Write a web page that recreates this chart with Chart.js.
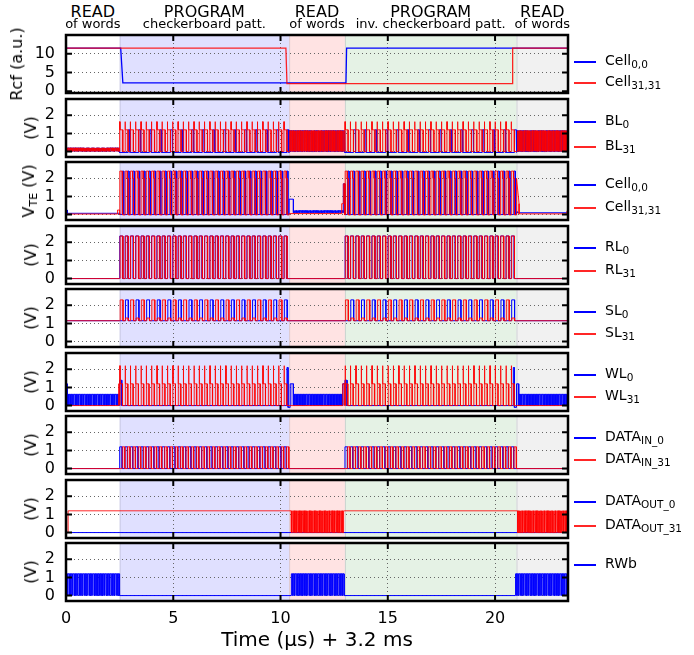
<!DOCTYPE html>
<html>
<head>
<meta charset="utf-8">
<script src="https://cdn.jsdelivr.net/npm/chart.js@4"></script>
<style>
body { margin: 0; background: #fff; }
#fig { position: relative; width: 694px; height: 655px; overflow: hidden; font-family: 'DejaVu Sans', sans-serif; color: #000; }
#fig canvas { position: absolute; left: 0; }
.phase { position: absolute; width: 240px; text-align: center; white-space: nowrap; }
.ytitle { position: absolute; white-space: nowrap; font-size: 16px; line-height: 16px; transform: translate(-50%, -50%) rotate(-90deg); }
.ytitle sub { font-size: 11px; vertical-align: -3px; line-height: 0; }
.legline { position: absolute; left: 574px; width: 22px; height: 1.5px; }
.legtext { position: absolute; left: 605px; height: 20px; line-height: 20px; font-size: 14px; white-space: nowrap; }
.legtext sub { font-size: 10.5px; vertical-align: -3px; line-height: 0; }
</style>
</head>
<body>
<div id="fig"></div>
<script>
// time axis: µs after 3.2 ms
const xMax = 23.4;
const xTicks = [0, 5, 10, 15, 20];
const voltTicks = [0, 1, 2];
const rcfTicks = [0, 5, 10];

// operation phases
const phaseStart = [0, 2.5, 10.4, 13.0, 21.0];
const phaseEnd = [2.5, 10.4, 13.0, 21.0, 23.4];
const phaseName = ['READ', 'PROGRAM', 'READ', 'PROGRAM', 'READ'];
const phaseNote = ['of words', 'checkerboard patt.', 'of words', 'inv. checkerboard patt.', 'of words'];
const phaseFill = ['rgba(255,255,255,0)', 'rgba(0,0,255,0.12)', 'rgba(255,0,0,0.11)', 'rgba(0,128,0,0.1)', 'rgba(128,128,128,0.11)'];

// one period of each repeating waveform: [fraction of period, value]
const flat = v => [[0, v], [1, v]];
const ramp = (a, b) => [[0, a], [1, b]];
const readBLlow = [[0, 0.02], [0.35, 0.02], [0.35, 0.2], [0.85, 0.2], [0.85, 0.02], [1, 0.02]];
const readBL0 = [[0, 0], [0.15, 0], [0.15, 1.15], [0.7, 1.15], [0.7, 0], [1, 0]];
const readBL31 = [[0, 0.02], [0.45, 0.02], [0.45, 1.15], [0.9, 1.15], [0.9, 0.02], [1, 0.02]];
const progBL0 = [[0, -0.05], [0.81, -0.05], [0.81, 1.2], [0.97, 1.2], [0.97, -0.05], [1, -0.05]];
const progBL31 = [[0, 0], [0.02, 0], [0.02, 1.65], [0.07, 1.65], [0.07, 1.2], [0.6, 1.2], [0.6, 0], [1, 0]];
const progTE00 = [[0, 0], [0.5, 0], [0.5, 2.4], [0.78, 2.4], [0.78, 0], [1, 0]];
const progTE3131 = [[0, -0.02], [0.05, -0.02], [0.05, 2.4], [0.45, 2.4], [0.45, 2.0], [0.62, 2.0], [0.62, -0.02], [1, -0.02]];
const readTE00 = [[0, 0.1], [0.4, 0.1], [0.4, 0.22], [0.9, 0.22], [0.9, 0.1], [1, 0.1]];
const progRL0 = [[0, 0], [0.04, 0], [0.04, 2.35], [0.58, 2.35], [0.58, 0], [1, 0]];
const progRL31 = [[0, 0], [0.08, 0], [0.08, 2.35], [0.62, 2.35], [0.62, 0], [1, 0]];
const progSL0 = [[0, 1.15], [0.55, 1.15], [0.55, 2.3], [0.82, 2.3], [0.82, 1.15], [1, 1.15]];
const progSL31 = [[0, 1.15], [0.05, 1.15], [0.05, 2.3], [0.32, 2.3], [0.32, 1.15], [0.55, 1.15], [0.55, 1.3], [0.82, 1.3], [0.82, 1.15], [1, 1.15]];
const readWL0 = [[0, 0], [0.1, 0], [0.1, 0.62], [0.85, 0.62], [0.85, 0], [1, 0]];
const progWL31 = [[0, 0], [0.05, 0], [0.05, 2.2], [0.09, 2.2], [0.09, 1.2], [0.55, 1.2], [0.55, 0], [1, 0]];
const progIN0 = [[0, 0], [0.02, 0], [0.02, 1.2], [0.47, 1.2], [0.47, 0], [1, 0]];
const progIN31 = [[0, 0], [0.5, 0], [0.5, 1.2], [0.95, 1.2], [0.95, 0], [1, 0]];
const readOUT31 = [[0, 1.2], [0.1, 1.2], [0.1, 0], [0.6, 0], [0.6, 1.2], [1, 1.2]];
const readRWb = [[0, 0], [0.1, 0], [0.1, 1.2], [0.88, 1.2], [0.88, 0], [1, 0]];

// signals: [from, to, repetitions, period shape]
const rcfCell00 = [[0, 2.55, 1, flat(11.5)], [2.55, 2.65, 1, ramp(11.5, 2.2)], [2.65, 13.05, 1, flat(2.2)], [13.05, 13.08, 1, ramp(2.2, 11.5)], [13.08, 23.4, 1, flat(11.5)]];
const rcfCell3131 = [[0, 10.25, 1, flat(11.5)], [10.25, 10.3, 1, ramp(11.5, 2.0)], [10.3, 20.8, 1, flat(2.0)], [20.8, 20.83, 1, ramp(2.0, 11.5)], [20.83, 23.4, 1, flat(11.5)]];
const bl0 = [[0, 2.5, 32, readBLlow], [2.5, 10.4, 16, progBL0], [10.4, 13.0, 32, readBL0], [13.0, 21.0, 16, progBL0], [21.0, 23.4, 32, readBL0]];
const bl31 = [[0, 2.5, 32, readBLlow], [2.5, 10.4, 32, progBL31], [10.4, 13.0, 32, readBL31], [13.0, 21.0, 32, progBL31], [21.0, 23.4, 32, readBL31]];
const vte00 = [[0, 0.06, 1, flat(0.25)], [0.06, 2.5, 1, flat(0.07)], [2.5, 10.4, 32, progTE00], [10.4, 10.6, 1, flat(0.85)], [10.6, 12.93, 32, readTE00], [12.93, 13.0, 1, flat(1.7)], [13.0, 21.0, 32, progTE00], [21.0, 21.05, 1, flat(0.15)], [21.05, 23.4, 1, flat(0.1)]];
const vte3131 = [[0, 2.4, 1, flat(0.03)], [2.4, 2.5, 1, flat(0.25)], [2.5, 10.4, 32, progTE3131], [10.4, 12.85, 1, flat(0.06)], [12.85, 12.93, 1, flat(0.6)], [12.93, 13.0, 1, flat(1.7)], [13.0, 21.0, 32, progTE3131], [21.0, 21.12, 1, ramp(2.0, 0.6)], [21.12, 23.35, 1, flat(0.04)], [23.35, 23.4, 1, flat(0.2)]];
const rl0 = [[0, 2.5, 1, flat(0)], [2.5, 10.4, 32, progRL0], [10.4, 13.0, 1, flat(0)], [13.0, 21.0, 32, progRL0], [21.0, 23.4, 1, flat(0)]];
const rl31 = [[0, 2.5, 1, flat(0)], [2.5, 10.4, 32, progRL31], [10.4, 13.0, 1, flat(0)], [13.0, 21.0, 32, progRL31], [21.0, 23.4, 1, flat(0)]];
const sl0 = [[0, 2.5, 1, flat(1.15)], [2.5, 10.4, 16, progSL0], [10.4, 13.0, 1, flat(1.15)], [13.0, 21.0, 16, progSL0], [21.0, 23.4, 1, flat(1.15)]];
const sl31 = [[0, 2.5, 1, flat(1.15)], [2.5, 10.4, 16, progSL31], [10.4, 13.0, 1, flat(1.15)], [13.0, 21.0, 16, progSL31], [21.0, 23.4, 1, flat(1.15)]];
const wl0 = [[0, 0.06, 1, flat(1.2)], [0.06, 2.5, 32, readWL0], [2.5, 2.6, 1, flat(1.4)], [2.6, 10.3, 1, flat(0)], [10.3, 10.35, 1, flat(2.1)], [10.35, 10.45, 1, flat(-0.1)], [10.45, 10.6, 1, flat(1.2)], [10.6, 12.9, 32, readWL0], [12.9, 13.0, 1, flat(1.2)], [13.0, 13.1, 1, flat(1.4)], [13.1, 20.85, 1, flat(0)], [20.85, 20.9, 1, flat(2.1)], [20.9, 21.0, 1, flat(-0.1)], [21.0, 21.1, 1, flat(1.2)], [21.1, 23.4, 32, readWL0]];
const wl31 = [[0, 2.45, 1, flat(0)], [2.45, 2.5, 1, flat(1.2)], [2.5, 10.4, 32, progWL31], [10.4, 12.9, 1, flat(0)], [12.9, 13.0, 1, flat(1.2)], [13.0, 21.0, 32, progWL31], [21.0, 23.38, 1, flat(0)], [23.38, 23.4, 1, flat(1.2)]];
const din0 = [[0, 2.5, 1, flat(0)], [2.5, 10.4, 32, progIN0], [10.4, 13.0, 1, flat(0)], [13.0, 21.0, 32, progIN0], [21.0, 23.4, 1, flat(0)]];
const din31 = [[0, 2.5, 1, flat(0)], [2.5, 10.4, 32, progIN31], [10.4, 13.0, 1, flat(0)], [13.0, 21.0, 32, progIN31], [21.0, 23.4, 1, flat(0)]];
const dout0 = [[0, 23.4, 1, flat(0)]];
const dout31 = [[0, 0.1, 1, flat(0)], [0.1, 10.5, 1, flat(1.2)], [10.5, 12.97, 32, readOUT31], [12.97, 21.05, 1, flat(1.2)], [21.05, 23.4, 32, readOUT31]];
const rwb = [[0, 2.5, 32, readRWb], [2.5, 10.5, 1, flat(0)], [10.5, 12.97, 32, readRWb], [12.97, 20.95, 1, flat(0)], [20.95, 23.4, 32, readRWb]];

const panels = [
  { title: 'Rcf (a.u.)', tx: 17, min: -0.5, max: 15, ticks: rcfTicks, blue: rcfCell00, red: rcfCell3131, names: ['Cell<sub>0,0</sub>', 'Cell<sub>31,31</sub>'], leg: [27, 48] },
  { title: '(V)', tx: 31, min: -0.3, max: 2.9, ticks: voltTicks, blue: bl0, red: bl31, redFill: 'origin', names: ['BL<sub>0</sub>', 'BL<sub>31</sub>'], leg: [23, 48] },
  { title: 'V<sub>TE</sub> (V)', tx: 29, min: -0.3, max: 2.9, ticks: voltTicks, blue: vte00, red: vte3131, redFill: 'origin', names: ['Cell<sub>0,0</sub>', 'Cell<sub>31,31</sub>'], leg: [23, 46] },
  { title: '(V)', tx: 31, min: -0.3, max: 2.9, ticks: voltTicks, blue: rl0, red: rl31, redFill: 'origin', names: ['RL<sub>0</sub>', 'RL<sub>31</sub>'], leg: [22, 45] },
  { title: '(V)', tx: 31, min: -0.3, max: 2.9, ticks: voltTicks, blue: sl0, red: sl31, redFill: { value: 1.15 }, names: ['SL<sub>0</sub>', 'SL<sub>31</sub>'], leg: [23, 45] },
  { title: '(V)', tx: 31, min: -0.3, max: 2.9, ticks: voltTicks, blue: wl0, red: wl31, redFill: 'origin', blueFill: 'origin', names: ['WL<sub>0</sub>', 'WL<sub>31</sub>'], leg: [22, 44] },
  { title: '(V)', tx: 31, min: -0.3, max: 2.9, ticks: voltTicks, blue: din0, red: din31, redFill: 'origin', names: ['DATA<sub>IN_0</sub>', 'DATA<sub>IN_31</sub>'], leg: [22, 44] },
  { title: '(V)', tx: 31, min: -0.3, max: 2.9, ticks: voltTicks, blue: dout0, red: dout31, redFill: { value: 1.2 }, names: ['DATA<sub>OUT_0</sub>', 'DATA<sub>OUT_31</sub>'], leg: [22, 46] },
  { title: '(V)', tx: 31, min: -0.3, max: 2.9, ticks: voltTicks, blue: rwb, blueFill: 'origin', names: ['RWb'], leg: [22] }
];

const panelTop = [35, 99, 162, 226, 289, 353, 416, 480, 543];
const panelH = 58;
const BLUE = '#0000ff';
const RED = 'rgba(255,0,0,0.85)';

function wave(segs) {
  const pts = [];
  segs.forEach(([t0, t1, n, shape]) => {
    const T = (t1 - t0) / n;
    for (let k = 0; k < n; k++)
      shape.forEach(([f, v]) => pts.push({ x: t0 + (k + f) * T, y: v }));
  });
  return pts;
}

// shaded phases under the grid, thick frame and inward ticks on top
const frame = {
  id: 'frame',
  beforeDraw(chart) {
    const { ctx, chartArea: a, scales: { x } } = chart;
    ctx.save();
    phaseStart.forEach((t, i) => {
      const l = x.getPixelForValue(t), r = x.getPixelForValue(phaseEnd[i]);
      ctx.fillStyle = phaseFill[i];
      ctx.fillRect(l, a.top, r - l, a.bottom - a.top);
      if (i > 0) {
        ctx.fillStyle = 'rgba(120,120,140,0.25)';
        ctx.fillRect(l, a.top, 1, a.bottom - a.top);
      }
    });
    ctx.restore();
  },
  afterDraw(chart) {
    const { ctx, chartArea: a, scales: { x, y } } = chart;
    ctx.save();
    ctx.strokeStyle = '#000';
    ctx.lineWidth = 2;
    ctx.beginPath();
    xTicks.forEach(v => {
      const p = x.getPixelForValue(v);
      ctx.moveTo(p, a.top); ctx.lineTo(p, a.top + 6);
      ctx.moveTo(p, a.bottom); ctx.lineTo(p, a.bottom - 6);
    });
    y.ticks.forEach(t => {
      const p = y.getPixelForValue(t.value);
      ctx.moveTo(a.left, p); ctx.lineTo(a.left + 6, p);
      ctx.moveTo(a.right, p); ctx.lineTo(a.right - 6, p);
    });
    ctx.stroke();
    ctx.lineWidth = 2.5;
    ctx.strokeRect(a.left, a.top, a.right - a.left, a.bottom - a.top);
    ctx.restore();
  }
};

Chart.defaults.font.family = "'DejaVu Sans', sans-serif";
Chart.defaults.color = '#000';

const fig = document.getElementById('fig');
const charts = [];

panels.forEach((p, i) => {
  const last = i === panels.length - 1;
  const top = panelTop[i];
  const h = 10 + panelH + (last ? 54 : 10);
  const cv = document.createElement('canvas');
  cv.width = 694; cv.height = h;
  cv.style.top = (top - 10) + 'px';
  cv.style.width = '694px'; cv.style.height = h + 'px';
  fig.appendChild(cv);

  const datasets = [{
    label: p.names[0], data: wave(p.blue), borderColor: BLUE, borderWidth: p.ticks === rcfTicks ? 1.3 : 1,
    fill: p.blueFill || false, backgroundColor: 'rgba(0,0,255,0.35)', order: 1
  }];
  if (p.red) datasets.push({
    label: p.names[1], data: wave(p.red), borderColor: RED, borderWidth: p.ticks === rcfTicks ? 1.3 : 1,
    fill: p.redFill || false, backgroundColor: 'rgba(255,0,0,0.15)', order: 0
  });

  const gridOpts = { color: '#666', lineWidth: 1, drawTicks: false };
  const borderOpts = { display: false, dash: [1, 3] };

  charts.push(new Chart(cv, {
    type: 'line',
    data: { datasets },
    plugins: [frame],
    options: {
      responsive: false, animation: false, events: [], devicePixelRatio: 1,
      layout: { padding: { top: 10, bottom: last ? 0 : 10, left: 0, right: 126 } },
      plugins: { legend: { display: false }, tooltip: { enabled: false } },
      elements: { point: { radius: 0 }, line: { tension: 0 } },
      scales: {
        x: {
          type: 'linear', min: 0, max: xMax,
          afterBuildTicks: s => { s.ticks = xTicks.map(v => ({ value: v })); },
          afterFit: s => { s.height = last ? 54 : 0; s.paddingLeft = 0; s.paddingRight = 0; },
          grid: gridOpts, border: borderOpts,
          ticks: { display: last, font: { size: 16 }, padding: 8 },
          title: { display: last, text: 'Time (μs) + 3.2 ms', font: { size: 20 }, padding: { top: 2, bottom: 2 } }
        },
        y: {
          min: p.min, max: p.max,
          afterBuildTicks: s => { s.ticks = p.ticks.map(v => ({ value: v })); },
          afterFit: s => { s.width = 66; s.paddingTop = 0; s.paddingBottom = 0; },
          grid: gridOpts, border: borderOpts,
          ticks: { font: { size: 16 }, padding: 11 }
        }
      }
    }
  }));

  // y title and legend (subscripts need html text)
  const yt = document.createElement('div');
  yt.className = 'ytitle';
  yt.style.left = p.tx + 'px';
  yt.style.top = (top + panelH / 2) + 'px';
  yt.innerHTML = p.title;
  fig.appendChild(yt);

  p.names.forEach((name, j) => {
    const y = top + p.leg[j];
    const line = document.createElement('div');
    line.className = 'legline';
    line.style.top = (y - 0.75) + 'px';
    line.style.background = j === 0 ? BLUE : RED;
    fig.appendChild(line);
    const txt = document.createElement('div');
    txt.className = 'legtext';
    txt.style.top = (y - 12) + 'px';
    txt.innerHTML = name;
    fig.appendChild(txt);
  });
});

// phase headings above the top panel
const xs = charts[0].scales.x;
phaseName.forEach((name, i) => {
  const cx = xs.getPixelForValue((phaseStart[i] + phaseEnd[i]) / 2);
  const a = document.createElement('div');
  a.className = 'phase';
  a.style.left = (cx - 120) + 'px';
  a.style.top = '3.5px';
  a.style.fontSize = '16px';
  a.style.lineHeight = '16px';
  a.textContent = name;
  fig.appendChild(a);
  const b = document.createElement('div');
  b.className = 'phase';
  b.style.left = (cx - 120) + 'px';
  b.style.top = '17px';
  b.style.fontSize = '13px';
  b.style.lineHeight = '13px';
  b.textContent = phaseNote[i];
  fig.appendChild(b);
});
</script>
</body>
</html>
